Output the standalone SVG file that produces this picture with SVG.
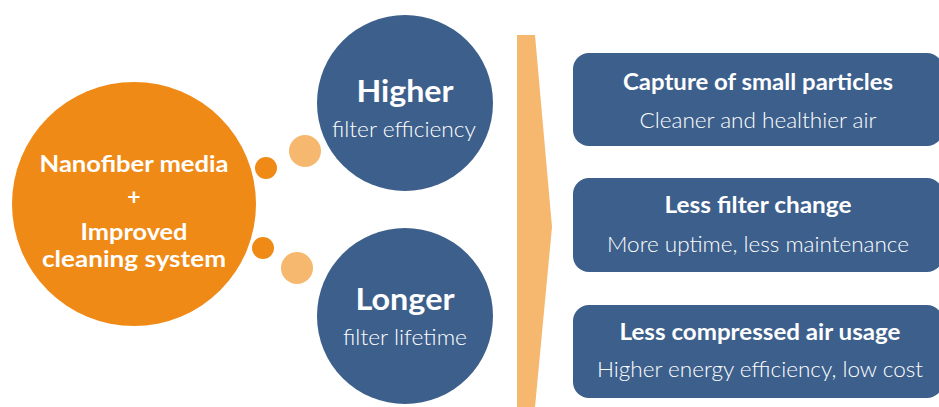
<svg xmlns="http://www.w3.org/2000/svg" width="939" height="407" viewBox="0 0 939 407">
<style>
.t{font-family:Lato,"Open Sans","Liberation Sans",sans-serif;fill:#fff;text-anchor:middle}
.b{font-weight:700}
.l{font-weight:300}
.blue{fill:#3D5F8C}
.org{fill:#EF8A17}
.lt{fill:#F6B86E}
</style>
<rect width="939" height="407" fill="#fff"/>
<g id="connectors">
<circle class="org" cx="266" cy="168" r="11"/>
<circle class="org" cx="263" cy="248" r="11"/>
<circle class="lt" cx="305" cy="151" r="16"/>
<circle class="lt" cx="297" cy="268" r="16"/>
<polygon id="chevron" class="lt" points="517,35 535,35 552,227 535,407 517,407"/>
</g>
<g id="source">
<circle class="org" cx="134" cy="204" r="122"/>
<text class="t b" x="134" y="172" font-size="23" textLength="189" lengthAdjust="spacingAndGlyphs">Nanofiber media</text>
<text class="t b" x="134" y="205" font-size="23">+</text>
<text class="t b" x="134" y="240" font-size="22" textLength="107" lengthAdjust="spacingAndGlyphs">Improved</text>
<text class="t b" x="134" y="267" font-size="22" textLength="184" lengthAdjust="spacingAndGlyphs">cleaning system</text>
</g>
<g id="higher">
<circle class="blue" cx="405" cy="103" r="88"/>
<text class="t b" x="405" y="102" font-size="30" textLength="97" lengthAdjust="spacingAndGlyphs">Higher</text>
<text class="t l" x="404" y="137" font-size="22" textLength="144" lengthAdjust="spacingAndGlyphs">filter efficiency</text>
</g>
<g id="longer">
<circle class="blue" cx="405" cy="316" r="88"/>
<text class="t b" x="405" y="310" font-size="30" textLength="99" lengthAdjust="spacingAndGlyphs">Longer</text>
<text class="t l" x="405" y="345" font-size="22" textLength="124" lengthAdjust="spacingAndGlyphs">filter lifetime</text>
</g>
<g id="benefit1">
<rect class="blue" x="573" y="53" width="370" height="93" rx="16"/>
<text class="t b" x="758" y="90" font-size="22" textLength="270" lengthAdjust="spacingAndGlyphs">Capture of small particles</text>
<text class="t l" x="758" y="128" font-size="22" textLength="237" lengthAdjust="spacingAndGlyphs">Cleaner and healthier air</text>
</g>
<g id="benefit2">
<rect class="blue" x="573" y="178" width="370" height="94" rx="16"/>
<text class="t b" x="758" y="213" font-size="22" textLength="187" lengthAdjust="spacingAndGlyphs">Less filter change</text>
<text class="t l" x="758" y="252" font-size="22" textLength="302" lengthAdjust="spacingAndGlyphs">More uptime, less maintenance</text>
</g>
<g id="benefit3">
<rect class="blue" x="573" y="305" width="370" height="93" rx="16"/>
<text class="t b" x="760" y="340" font-size="22" textLength="281" lengthAdjust="spacingAndGlyphs">Less compressed air usage</text>
<text class="t l" x="760" y="377" font-size="22" textLength="326" lengthAdjust="spacingAndGlyphs">Higher energy efficiency, low cost</text>
</g>
</svg>
